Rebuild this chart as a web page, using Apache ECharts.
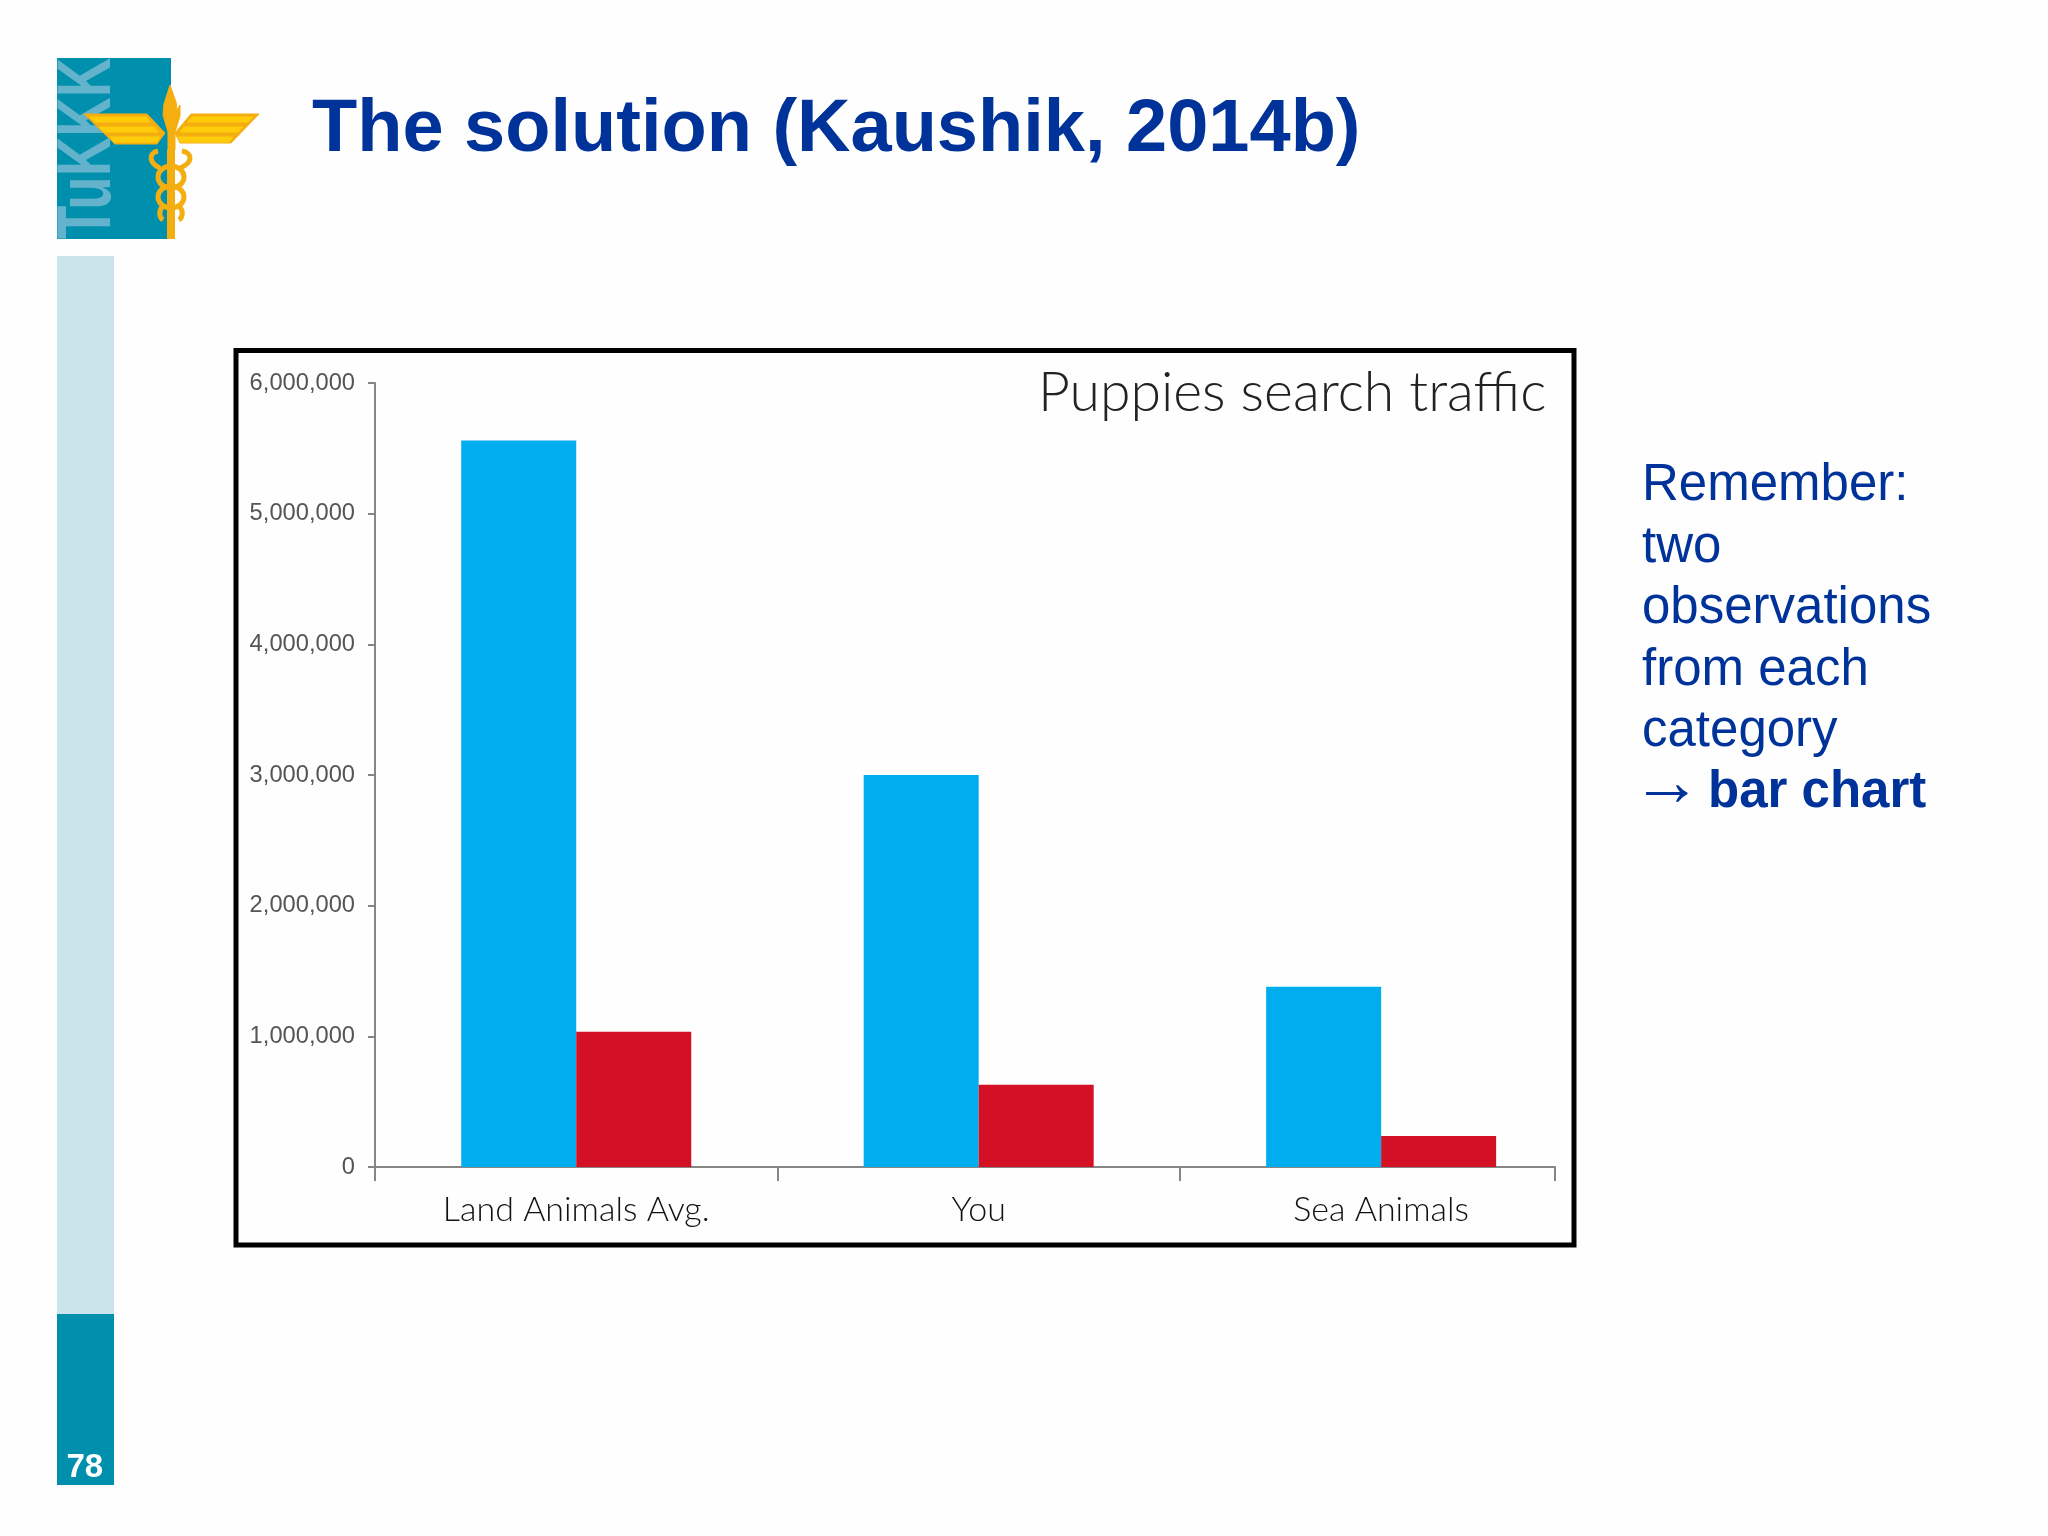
<!DOCTYPE html>
<html><head><meta charset="utf-8">
<style>html,body{margin:0;padding:0;background:#fefefe}#c{width:2048px;height:1536px}</style>
<script src="https://cdn.jsdelivr.net/npm/echarts@6/dist/echarts.min.js"></script>
</head><body><div id="c"></div>
<script>
const categories = ['Land Animals Avg.', 'You', 'Sea Animals'];
const blueValues = [5560000, 3000000, 1380000];
const redValues = [1035000, 630000, 237000];
const yTickMax = 6000000;
const yTickStep = 1000000;
const slideTitle = 'The solution (Kaushik, 2014b)';
const chartTitle = 'Puppies search traffic';
const noteLines = ['Remember:', 'two', 'observations', 'from each', 'category'];
const noteBold = 'bar chart';
const pageNumber = '78';

const NAVY = '#003399', TEAL = '#0090AD', PALE = '#CBE4EC', GOLD = '#F4AE10', GOLD2 = '#FFCC0A', AX = '#868686';
const sans = '"Liberation Sans", Arial, sans-serif';
const rect = (x, y, w, h, fill, z) => ({type: 'rect', shape: {x, y, width: w, height: h}, style: {fill}, z: z || 1});
const txt = (text, x, base, size, weight, fam, fill, k) => ({type: 'text', x, y: base - (k || 0.3465) * size, z: 5,
  style: {text, font: weight + ' ' + size + 'px ' + fam, fill, verticalAlign: 'middle', align: 'left'}});
const poly = (points, fill, z) => ({type: 'polygon', z: z || 4, shape: {points}, style: {fill, stroke: fill, lineWidth: 1}});
const curve = (x1, y1, cpx1, cpy1, cpx2, cpy2, x2, y2) => ({type: 'bezierCurve', z: 4,
  shape: {x1, y1, cpx1, cpy1, cpx2, cpy2, x2, y2}, style: {fill: 'none', stroke: GOLD, lineWidth: 5}});

const chart = echarts.init(document.getElementById('c'), null, {renderer: 'canvas'});
const at = arr => arr.map((v, i) => [i + 0.5, v]);
const barStyle = c => ({type: 'bar', barWidth: 115, barGap: 0, itemStyle: {color: c}, z: 3});

chart.setOption({
  animation: false,
  backgroundColor: '#fefefe',
  grid: {left: 375, top: 383, width: 1180, height: 784, containLabel: false},
  xAxis: {
    type: 'value', min: 0, max: 2.932, splitLine: {show: false},
    axisLine: {show: true, onZero: false, lineStyle: {color: AX, width: 2}},
    axisTick: {show: true, length: 14, customValues: [0, 1, 2, 2.932], lineStyle: {color: AX, width: 2}},
    axisLabel: {show: true, customValues: [0.5, 1.5, 2.5], margin: 26,
      formatter: v => categories[Math.round(v - 0.5)],
      fontFamily: 'Lato', fontWeight: 300, fontSize: 34, color: '#111'}
  },
  yAxis: {
    type: 'value', min: 0, max: yTickMax, interval: yTickStep, splitLine: {show: false},
    axisLine: {show: true, lineStyle: {color: AX, width: 2}},
    axisTick: {show: true, length: 7, lineStyle: {color: AX, width: 2}},
    axisLabel: {margin: 20, fontFamily: sans, fontSize: 23.7, color: '#555', padding: [3, 0, 0, 0],
      formatter: v => v.toLocaleString('en-US')}
  },
  series: [
    Object.assign(barStyle('#00AEEF'), {name: 'Blue', data: at(blueValues)}),
    Object.assign(barStyle('#D31024'), {name: 'Red', data: at(redValues)})
  ],
  graphic: {elements: [
    rect(57, 256, 57, 1058, PALE),
    rect(57, 1314, 57, 171, TEAL),
    txt(pageNumber, 66.5, 1479, 33, 'bold', sans, '#fff'),
    rect(57, 58, 114, 181, TEAL),
    {type: 'text', z: 2, x: 89, y: 239, rotation: Math.PI / 2, scaleX: 0.72,
      style: {text: 'TuKKK', font: 'bold 76px ' + sans, fill: '#62B3CB', verticalAlign: 'middle', align: 'left'}},
    rect(167, 150, 8, 89, GOLD, 4),
    poly([[84, 114], [147, 114], [165, 133], [157, 144], [115, 144]], GOLD),
    poly([[259, 114], [191, 114], [175, 133], [180, 143], [231, 143]], GOLD),
    poly([[90, 117], [146, 117], [150, 122], [95, 122]], GOLD2),
    poly([[99, 127], [154, 127], [158, 132], [104, 132]], GOLD2),
    poly([[110, 137], [160, 137], [157, 142], [114, 142]], GOLD2),
    poly([[253, 117], [192, 117], [188, 122], [248, 122]], GOLD2),
    poly([[243, 127], [184, 127], [180, 132], [238, 132]], GOLD2),
    poly([[233, 137], [178, 137], [180, 142], [229, 142]], GOLD2),
    poly([[170, 85], [164, 104], [163, 115], [168, 132], [168, 150], [175, 150], [175, 132], [180, 116], [180, 105], [177, 110], [176, 102]], GOLD),
    {type: 'ellipse', z: 4, shape: {cx: 171, cy: 177, rx: 13, ry: 11}, style: {fill: 'none', stroke: GOLD, lineWidth: 5}},
    {type: 'ellipse', z: 4, shape: {cx: 171, cy: 197, rx: 13, ry: 11}, style: {fill: 'none', stroke: GOLD, lineWidth: 5}},
    curve(158, 151, 148, 153, 149, 163, 160, 168),
    curve(182, 151, 193, 153, 193, 163, 180, 168),
    curve(162, 207, 158, 212, 160, 218, 163, 220),
    curve(180, 207, 184, 212, 182, 218, 179, 220),
    txt(slideTitle, 312, 156, 74, 'bold', sans, NAVY),
    {type: 'rect', z: 1, shape: {x: 236, y: 350.5, width: 1338, height: 894.5}, style: {fill: 'none', stroke: '#000', lineWidth: 5}},
    txt(chartTitle, 1038, 415, 55.3, '300', 'Lato', '#222', 0.387),
    ...noteLines.map((line, i) => txt(line, 1642, 504 + i * 61.4, 51, 'normal', sans, NAVY)),
    txt('→', 1632, 810, 70, 'normal', sans, NAVY),
    txt(noteBold, 1708, 811, 51, 'bold', sans, NAVY)
  ]}
});
</script></body></html>
